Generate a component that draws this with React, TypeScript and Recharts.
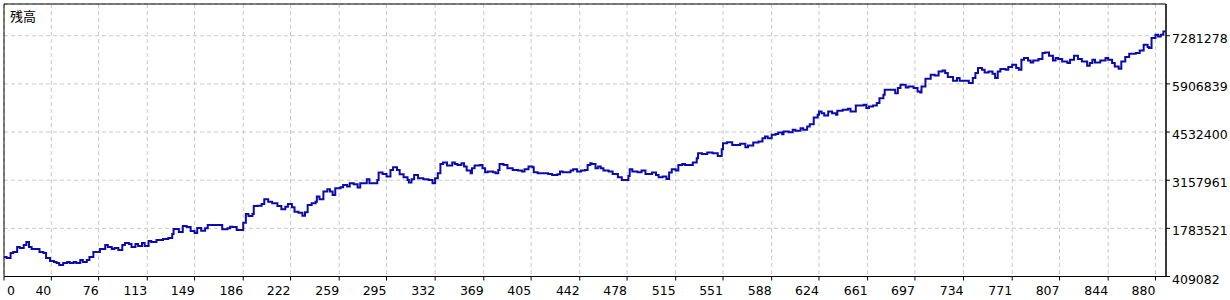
import { CartesianGrid, Line, LineChart, ReferenceArea, XAxis, YAxis } from "recharts";

const TITLE = "残高";

// trade number at each sampled point
const TRADE_NO = [
  4, 6, 9, 11, 14, 16, 19, 21, 23, 25, 29, 31, 34, 36, 39, 42, 44, 46, 49, 52, 54, 57, 59, 62, 64, 67, 69, 72, 75, 77,
  81, 83, 86, 88, 91, 94, 96, 99, 101, 104, 106, 109, 111, 114, 116, 120, 125, 129, 132, 133, 137, 140, 143, 146, 149,
  151, 154, 157, 159, 163, 167, 170, 174, 176, 178, 181, 184, 186, 188, 190, 193, 194, 197, 200, 202, 205, 208, 212,
  215, 218, 220, 223, 225, 228, 231, 233, 235, 238, 241, 242, 244, 247, 250, 252, 254, 256, 260, 262, 265, 267, 270,
  273, 275, 277, 280, 282, 285, 288, 289, 292, 295, 298, 300, 303, 305, 308, 311, 312, 314, 316, 319, 323, 327, 330,
  332, 334, 336, 338, 341, 345, 347, 349, 352, 354, 356, 359, 360, 362, 366, 368, 370, 372, 376, 378, 380, 381, 384,
  387, 389, 391, 395, 398, 400, 403, 406, 407, 410, 414, 418, 421, 425, 427, 429, 432, 435, 437, 440, 443, 446, 448,
  450, 451, 454, 456, 458, 460, 464, 467, 469, 471, 474, 476, 479, 480, 482, 486, 489, 492, 494, 497, 500, 502, 505,
  508, 510, 512, 515, 517, 520, 522, 525, 528, 531, 532, 535, 539, 543, 545, 547, 550, 551, 554, 558, 562, 564, 568,
  570, 574, 578, 581, 583, 585, 588, 591, 593, 596, 597, 601, 604, 606, 610, 612, 615, 617, 620, 623, 624, 626, 628,
  631, 634, 637, 638, 642, 646, 648, 651, 652, 655, 658, 660, 662, 665, 668, 670, 673, 674, 678, 682, 684, 686, 690,
  692, 696, 699, 701, 702, 705, 709, 712, 715, 718, 720, 722, 726, 729, 731, 735, 738, 741, 743, 745, 748, 750, 753,
  756, 758, 760, 762, 766, 768, 771, 774, 776, 778, 780, 783, 785, 787, 791, 794, 796, 799, 802, 804, 806, 809, 813,
  815, 818, 821, 824, 828, 830, 832, 834, 838, 842, 844, 847, 849, 852, 854, 857, 860, 865, 868, 871, 874, 875, 877,
  880, 882, 884, 886, 887,
];

// balance at those points, in thousands
const BALANCE_K = [
  966, 938, 1080, 1109, 1252, 1223, 1309, 1395, 1252, 1195, 1195, 1109, 1080, 938, 852, 823, 795, 738, 795, 823, 795,
  823, 795, 880, 823, 880, 966, 1109, 1109, 1195, 1309, 1252, 1195, 1223, 1166, 1309, 1366, 1338, 1252, 1338, 1280,
  1366, 1280, 1423, 1395, 1452, 1480, 1509, 1623, 1766, 1681, 1852, 1823, 1709, 1652, 1795, 1718, 1786, 1880, 1880,
  1880, 1758, 1786, 1832, 1823, 1738, 1738, 1946, 2195, 2138, 2195, 2423, 2432, 2481, 2615, 2546, 2500, 2423, 2329,
  2403, 2481, 2386, 2260, 2232, 2146, 2243, 2452, 2500, 2546, 2689, 2615, 2832, 2900, 2832, 2738, 2929, 2958, 3023,
  2975, 3072, 3043, 2946, 3072, 3072, 3186, 3072, 3072, 3166, 3375, 3338, 3261, 3452, 3529, 3452, 3329, 3243, 3166,
  3089, 3186, 3309, 3215, 3186, 3166, 3072, 3215, 3358, 3623, 3660, 3575, 3660, 3623, 3595, 3643, 3546, 3432, 3358,
  3500, 3575, 3595, 3500, 3386, 3403, 3386, 3358, 3452, 3623, 3595, 3500, 3500, 3452, 3432, 3403, 3472, 3546, 3529,
  3386, 3358, 3358, 3338, 3309, 3329, 3403, 3386, 3386, 3432, 3472, 3403, 3432, 3452, 3595, 3643, 3623, 3500, 3546,
  3500, 3432, 3403, 3338, 3338, 3243, 3166, 3166, 3281, 3472, 3403, 3386, 3432, 3338, 3338, 3375, 3309, 3243, 3261,
  3195, 3375, 3472, 3432, 3595, 3623, 3595, 3595, 3660, 3786, 3929, 3909, 3946, 3929, 3929, 3852, 4043, 4215, 4243,
  4166, 4166, 4195, 4100, 4146, 4232, 4260, 4357, 4403, 4357, 4452, 4480, 4518, 4472, 4546, 4529, 4595, 4566, 4643,
  4595, 4689, 4758, 4946, 5023, 5118, 5072, 5003, 5118, 5072, 5023, 5138, 5166, 5195, 5118, 5118, 5289, 5289, 5309,
  5215, 5261, 5289, 5358, 5500, 5595, 5738, 5738, 5643, 5786, 5880, 5803, 5832, 5786, 5689, 5660, 5832, 6052, 6166,
  6146, 6260, 6289, 6215, 6100, 5995, 6072, 5995, 5995, 5929, 6072, 6215, 6358, 6309, 6232, 6260, 6195, 6072, 6260,
  6329, 6309, 6386, 6452, 6358, 6309, 6595, 6643, 6575, 6518, 6575, 6615, 6786, 6803, 6709, 6575, 6643, 6615, 6546,
  6500, 6595, 6709, 6615, 6546, 6423, 6500, 6595, 6518, 6575, 6643, 6595, 6500, 6403, 6338, 6546, 6672, 6766, 6786,
  6860, 7023, 6958, 6929, 7215, 7309, 7260, 7309, 7403, 7390,
];

const X_TICKS = [40, 76, 113, 149, 186, 222, 259, 295, 332, 369, 405, 442, 478, 515, 551, 588, 624, 661, 697, 734, 771, 807, 844, 880];
const Y_TICKS = [409082, 1783521, 3157961, 4532400, 5906839, 7281278];

const X_MIN = 4;
const X_MAX = 888;
const Y_MIN = 409082;
const Y_MAX = 8187000;

const data = TRADE_NO.map((t, i) => ({ t, balance: BALANCE_K[i] * 1000 }));

const FONT = "'DejaVu Sans', Verdana, sans-serif";

function XTick({ x, y, payload }: any) {
  const first = payload.value === X_MIN;
  return (
    <text
      x={first ? x + 3 : x}
      y={y + 12}
      textAnchor={first ? "start" : "end"}
      fontFamily={FONT}
      fontSize={12.5}
      fill="#000"
    >
      {first ? "0" : payload.value}
    </text>
  );
}

function YTick({ x, y, payload }: any) {
  return (
    <text x={x} y={y + 7} textAnchor="start" fontFamily={FONT} fontSize={12.5} fill="#000">
      {payload.value}
    </text>
  );
}

export default function App() {
  return (
    <div style={{ position: "absolute", left: 0, top: 0, width: 1230, height: 300, background: "#fff" }}>
      <LineChart width={1230} height={300} data={data} margin={{ top: 4, right: 0, left: 4, bottom: 0 }}>
        <CartesianGrid stroke="#c8c8c8" strokeDasharray="4 3" />
        <XAxis
          type="number"
          dataKey="t"
          domain={[X_MIN, X_MAX]}
          ticks={[X_MIN, ...X_TICKS]}
          interval={0}
          allowDataOverflow
          height={23.5}
          tickSize={4}
          tickMargin={2}
          axisLine={{ stroke: "#000" }}
          tickLine={{ stroke: "#000" }}
          tick={<XTick />}
        />
        <YAxis
          orientation="right"
          type="number"
          domain={[Y_MIN, Y_MAX]}
          ticks={Y_TICKS}
          interval={0}
          allowDataOverflow
          width={64}
          tickSize={4}
          tickMargin={2}
          axisLine={{ stroke: "#000" }}
          tickLine={{ stroke: "#000" }}
          tick={<YTick />}
        />
        <ReferenceArea
          x1={X_MIN}
          x2={X_MAX}
          y1={Y_MIN}
          y2={Y_MAX}
          fill="none"
          stroke="#000"
          strokeWidth={1}
          ifOverflow="visible"
        />
        <Line
          type="stepAfter"
          dataKey="balance"
          stroke="#0a0aae"
          strokeWidth={2}
          dot={false}
          activeDot={false}
          isAnimationActive={false}
        />
      </LineChart>
      <div
        style={{
          position: "absolute",
          left: 10,
          top: 9,
          fontFamily: "'Noto Sans CJK JP', sans-serif",
          fontSize: 13,
          lineHeight: "13px",
          color: "#000",
        }}
      >
        {TITLE}
      </div>
    </div>
  );
}
